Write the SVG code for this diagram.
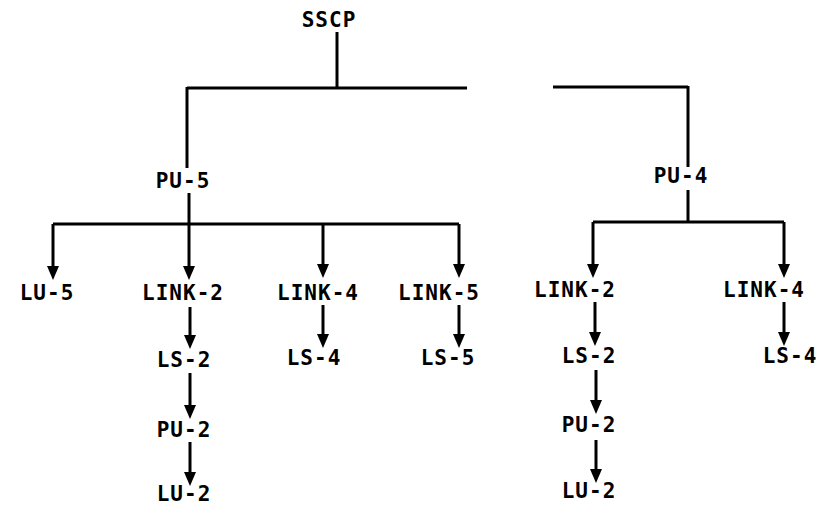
<svg xmlns="http://www.w3.org/2000/svg" width="819" height="506" viewBox="0 0 819 506">
<style>
  .lbl { font-family: "DejaVu Sans Mono", "Liberation Mono", monospace; font-weight: bold; font-size: 21px; letter-spacing: 1px; text-anchor: middle; fill: #000; }
  .ln { stroke: #000; stroke-width: 3; fill: none; }
  .ar { stroke: #000; stroke-width: 3; fill: none; marker-end: url(#ah); }
</style>
<defs>
  <marker id="ah" markerUnits="userSpaceOnUse" markerWidth="14" markerHeight="12" refX="6" refY="6" orient="auto" viewBox="0 0 14 12">
    <path d="M0,0 L14,6 L0,12 Z" fill="#000"/>
  </marker>
</defs>
<rect width="819" height="506" fill="#fff"/>
<g id="connectors">
  <path class="ln" d="M337,32 V88"/>
  <path class="ln" d="M187,88 H467"/>
  <path class="ln" d="M553,87 H688"/>
  <path class="ln" d="M187,87 V168"/>
  <path class="ln" d="M688,86 V167"/>
  <path class="ar" d="M189,193 V272"/>
  <path class="ln" d="M53,224 H459"/>
  <path class="ar" d="M53,224 V272"/>
  <path class="ar" d="M323,224 V270"/>
  <path class="ar" d="M459,224 V270"/>
  <path class="ar" d="M190,307 V341"/>
  <path class="ar" d="M190,373 V411"/>
  <path class="ar" d="M190,442 V478"/>
  <path class="ar" d="M323,305 V340"/>
  <path class="ar" d="M459,305 V340"/>
  <path class="ln" d="M688,190 V222"/>
  <path class="ln" d="M593,222 H784"/>
  <path class="ar" d="M593,222 V270"/>
  <path class="ar" d="M784,222 V270"/>
  <path class="ar" d="M595,302 V338"/>
  <path class="ar" d="M784,302 V338"/>
  <path class="ar" d="M596,370 V406"/>
  <path class="ar" d="M596,440 V475"/>
</g>
<g id="sscp"><text class="lbl" x="329" y="27">SSCP</text></g>
<g id="pu5"><text class="lbl" x="183" y="188">PU-5</text></g>
<g id="pu4"><text class="lbl" x="681" y="183">PU-4</text></g>
<g id="lu5"><text class="lbl" x="47" y="300">LU-5</text></g>
<g id="link2a"><text class="lbl" x="183" y="300">LINK-2</text></g>
<g id="link4a"><text class="lbl" x="318" y="300">LINK-4</text></g>
<g id="link5"><text class="lbl" x="439" y="300">LINK-5</text></g>
<g id="link2b"><text class="lbl" x="575" y="297">LINK-2</text></g>
<g id="link4b"><text class="lbl" x="764" y="297">LINK-4</text></g>
<g id="ls2a"><text class="lbl" x="184" y="367">LS-2</text></g>
<g id="ls4a"><text class="lbl" x="314" y="365">LS-4</text></g>
<g id="ls5"><text class="lbl" x="448" y="365">LS-5</text></g>
<g id="ls2b"><text class="lbl" x="589" y="363">LS-2</text></g>
<g id="ls4b"><text class="lbl" x="790" y="363">LS-4</text></g>
<g id="pu2a"><text class="lbl" x="184" y="437">PU-2</text></g>
<g id="pu2b"><text class="lbl" x="589" y="432">PU-2</text></g>
<g id="lu2a"><text class="lbl" x="184" y="501">LU-2</text></g>
<g id="lu2b"><text class="lbl" x="589" y="498">LU-2</text></g>
</svg>
